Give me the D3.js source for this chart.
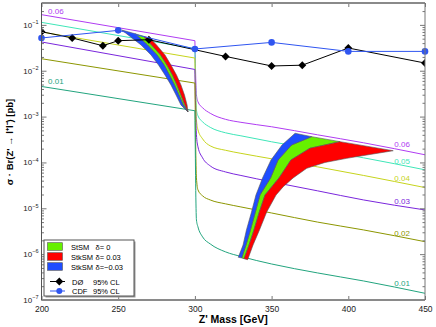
<!DOCTYPE html>
<html>
<head>
<meta charset="utf-8">
<script src="https://cdn.jsdelivr.net/npm/d3@7"></script>
<style>
body { margin: 0; background: #fff; }
text { font-family: "Liberation Sans", Arial, sans-serif; }
</style>
</head>
<body>
<script>
// ---- data ----
const massTicks = [200, 250, 300, 350, 400, 450];
const deltaLabels = ['0.06', '0.05', '0.04', '0.03', '0.02', '0.01'];
const deltaColors = ['#b03cf2', '#3fe6b8', '#c6d41c', '#7a26dc', '#8c9600', '#22a47e'];

// below threshold: values at 200 and 300 GeV
const leftMass = [200, 300];
const leftValues = [
  [0.167, 0.0452],
  [0.1135, 0.0302],
  [0.070, 0.0189],
  [0.0424, 0.01067],
  [0.01828, 0.00538],
  [0.00454, 0.00134]
];

// above threshold
const rightMass = [301, 302, 305, 310, 320, 330, 350, 380, 410, 450];
const rightValues = [
  [2.99e-3, 2.10e-3, 1.56e-3, 1.18e-3, 8.7e-4, 7.5e-4, 6.0e-4, 4.0e-4, 2.68e-4, 1.47e-4],
  [1.41e-3, 1.04e-3, 7.7e-4, 5.83e-4, 4.43e-4, 3.81e-4, 2.82e-4, 1.88e-4, 1.26e-4, 6.9e-5],
  [8.5e-4, 5.15e-4, 3.27e-4, 2.30e-4, 1.84e-4, 1.58e-4, 1.20e-4, 8.0e-5, 5.2e-5, 2.83e-5],
  [4.01e-4, 2.19e-4, 1.26e-4, 8.4e-5, 6.2e-5, 5.2e-5, 3.77e-5, 2.40e-5, 1.52e-5, 9.2e-6],
  [4.61e-5, 2.52e-5, 1.87e-5, 1.52e-5, 1.25e-5, 1.07e-5, 7.9e-6, 5.0e-6, 3.37e-6, 1.87e-6],
  [5.58e-6, 3.93e-6, 2.38e-6, 1.67e-6, 1.12e-6, 8.9e-7, 6.1e-7, 3.89e-7, 2.60e-7, 1.40e-7]
];

// curve labels (mass, value) at the right and two on the left
const rightLabelMass = 430;
const rightLabelValues = [2.17e-4, 9.24e-5, 3.94e-5, 1.24e-5, 2.49e-6, 2.02e-7];
const leftLabelMass = 204.3;
const leftLabelValues = [0.173, null, null, null, null, 5.14e-3];

// D0 and CDF 95% CL limits
const d0Mass = [200, 220, 240, 250, 270, 320, 350, 370, 400, 450];
const d0Limit = [0.0711, 0.0518, 0.0351, 0.0452, 0.0475, 0.0205, 0.0127, 0.0132, 0.0313, 0.0147];
const cdfMass = [200, 250, 300, 350, 400, 450];
const cdfLimit = [0.0518, 0.0759, 0.0298, 0.0415, 0.0264, 0.0264];

// bands below threshold: edges from top to tip, [mass, value]
const lowEdge0 = [[252.3, 0.0774], [264.9, 0.0365], [271.4, 0.0221], [276.3, 0.0133], [280.5, 0.00807], [284.4, 0.00489], [287.7, 0.00296], [290.9, 0.00179], [295.5, 0.00126]];
const lowEdge1 = [[261.0, 0.0640], [269.1, 0.0365], [275.3, 0.0221], [279.9, 0.0133], [283.4, 0.00807], [286.7, 0.00489], [289.6, 0.00296], [292.4, 0.00179], [295.5, 0.00126]];
const lowEdge2 = [[266.4, 0.0566], [271.7, 0.0365], [277.6, 0.0221], [281.8, 0.0133], [285.4, 0.00807], [288.3, 0.00489], [290.9, 0.00296], [293.5, 0.00179], [295.5, 0.00126]];
const lowEdge3 = [[270.7, 0.0510], [275.0, 0.0365], [280.5, 0.0221], [284.4, 0.0133], [288.0, 0.00807], [290.9, 0.00489], [293.2, 0.00296], [294.9, 0.00179], [295.5, 0.00126]];

// bands above threshold: edges from bottom to top
const highEdge0 = [[328.3, 8.53e-7], [331.4, 1.585e-6], [333.6, 3.37e-6], [336.9, 8.30e-6], [339.8, 1.95e-5], [344.1, 4.58e-5], [349.6, 1.13e-4], [356.8, 2.40e-4], [365.3, 4.33e-4]];
const highEdge1 = [[330.5, 8.24e-7], [333.3, 1.585e-6], [336.2, 3.37e-6], [339.4, 8.30e-6], [342.4, 1.95e-5], [349.3, 4.58e-5], [354.2, 1.13e-4], [363.0, 2.40e-4], [376.1, 3.65e-4]];
const highEdge2 = [[332.0, 7.96e-7], [335.3, 1.585e-6], [338.5, 3.37e-6], [342.0, 8.30e-6], [345.7, 1.95e-5], [354.8, 4.58e-5], [362.6, 1.13e-4], [375.0, 2.04e-4], [394.6, 2.84e-4]];
const highEdge3 = [[334.4, 7.57e-7], [337.9, 1.585e-6], [342.1, 3.37e-6], [346.8, 8.30e-6], [352.9, 1.95e-5], [357.6, 2.96e-5], [364.0, 4.58e-5], [372.9, 7.45e-5], [384.8, 9.98e-5], [399.0, 1.23e-4], [414.1, 1.49e-4], [429.3, 1.80e-4]];

const bandNames = ['StSM', 'StkSM', 'StkSM'];
const bandDeltas = ['δ= 0', 'δ= 0.03', 'δ=−0.03'];
const bandColors = ['#66f000', '#ff0000', '#1f4dff'];

// ---- layout ----
const W = 436, H = 327;
const margin = {top: 3, right: 11, bottom: 27, left: 41.5};

const svg = d3.select('body').append('svg')
              .attr('width', W)
              .attr('height', H);

const x = d3.scaleLinear().domain([200, 450]).range([margin.left, W - margin.right]);
const y = d3.scaleLog().domain([1e-7, 0.3]).range([H - margin.bottom, margin.top]);

svg.append('defs').append('clipPath').attr('id', 'plot')
   .append('rect')
   .attr('x', x(200)).attr('y', y(0.3))
   .attr('width', x(450) - x(200)).attr('height', y(1e-7) - y(0.3));

const plot = svg.append('g').attr('clip-path', 'url(#plot)');

// delta curves
const straight = d3.line().x(d => x(d[0])).y(d => y(d[1]));
const smooth = d3.line().x(d => x(d[0])).y(d => y(d[1])).curve(d3.curveMonotoneX);

deltaLabels.forEach((lab, i) => {
  const left = leftMass.map((m, j) => [m, leftValues[i][j]]);
  const right = [[300, leftValues[i][1]]].concat(rightMass.map((m, j) => [m, rightValues[i][j]]));
  plot.append('path').attr('d', straight(left))
      .attr('fill', 'none').attr('stroke', deltaColors[i]).attr('stroke-width', 1);
  plot.append('path').attr('d', smooth(right))
      .attr('fill', 'none').attr('stroke', deltaColors[i]).attr('stroke-width', 1);
});

// bands
function band(a, b) {
  return straight(a.concat(b.slice().reverse())) + 'Z';
}
const lowBands = [[lowEdge1, lowEdge2], [lowEdge2, lowEdge3], [lowEdge0, lowEdge1]];
const highBands = [[highEdge1, highEdge2], [highEdge2, highEdge3], [highEdge0, highEdge1]];
[lowBands, highBands].forEach(group => {
  group.forEach((pair, i) => {
    plot.append('path').attr('d', band(pair[0], pair[1]))
        .attr('fill', bandColors[i])
        .attr('stroke', '#555').attr('stroke-width', 0.6);
  });
});

// D0 limit
const d0 = d0Mass.map((m, i) => [m, d0Limit[i]]);
plot.append('path').attr('d', straight(d0))
    .attr('fill', 'none').attr('stroke', '#000').attr('stroke-width', 1);
const diamond = d3.symbol().type(d3.symbolDiamond2).size(40);
plot.selectAll('.d0').data(d0).enter().append('path')
    .attr('class', 'd0')
    .attr('d', diamond)
    .attr('transform', d => 'translate(' + x(d[0]) + ',' + y(d[1]) + ')')
    .attr('fill', '#000');

// CDF limit
const cdf = cdfMass.map((m, i) => [m, cdfLimit[i]]);
plot.append('path').attr('d', straight(cdf))
    .attr('fill', 'none').attr('stroke', '#2f55f0').attr('stroke-width', 1);
svg.selectAll('.cdf').data(cdf).enter().append('circle')
   .attr('class', 'cdf')
   .attr('cx', d => x(d[0])).attr('cy', d => y(d[1]))
   .attr('r', 3.3)
   .attr('fill', '#2f55f0');

// curve labels
deltaLabels.forEach((lab, i) => {
  svg.append('text').attr('x', x(rightLabelMass)).attr('y', y(rightLabelValues[i]))
     .attr('font-size', 8).attr('fill', deltaColors[i]).text(lab);
  if (leftLabelValues[i] !== null) {
    svg.append('text').attr('x', x(leftLabelMass)).attr('y', y(leftLabelValues[i]))
       .attr('font-size', 8).attr('fill', deltaColors[i]).text(lab);
  }
});

// ---- axes ----
const majors = d3.range(-7, 0).map(k => Math.pow(10, k));
const minors = [];
for (let k = -7; k < 0; k++) {
  for (let m = 2; m <= 9; m++) {
    const v = m * Math.pow(10, k);
    if (v <= 0.3) minors.push(v);
  }
}

function styleAxis(g) {
  g.select('.domain').remove();
  g.selectAll('line').attr('stroke', '#777');
}

svg.append('g').attr('transform', 'translate(' + x(200) + ',0)')
   .call(d3.axisLeft(y).tickValues(majors).tickSize(-5).tickFormat(''))
   .call(styleAxis);
svg.append('g').attr('transform', 'translate(' + x(200) + ',0)')
   .call(d3.axisLeft(y).tickValues(minors).tickSize(-2.5).tickFormat(''))
   .call(styleAxis);
svg.append('g').attr('transform', 'translate(' + x(450) + ',0)')
   .call(d3.axisRight(y).tickValues(majors).tickSize(-5).tickFormat(''))
   .call(styleAxis);
svg.append('g').attr('transform', 'translate(' + x(450) + ',0)')
   .call(d3.axisRight(y).tickValues(minors).tickSize(-2.5).tickFormat(''))
   .call(styleAxis);

const xAxis = svg.append('g').attr('transform', 'translate(0,' + y(1e-7) + ')')
   .call(d3.axisBottom(x).tickValues(massTicks).tickSize(-4).tickPadding(6))
   .call(styleAxis);
xAxis.selectAll('text').attr('font-size', 8.5).attr('fill', '#222')
     .attr('font-family', '"Liberation Sans", Arial, sans-serif');
svg.append('g').attr('transform', 'translate(0,' + y(0.3) + ')')
   .call(d3.axisTop(x).tickValues(massTicks).tickSize(-4).tickFormat(''))
   .call(styleAxis);

// y tick labels 10^k
majors.forEach(v => {
  const t = svg.append('text').attr('x', x(200) - 3).attr('y', y(v) + 2.8)
               .attr('text-anchor', 'end').attr('font-size', 8).attr('fill', '#222');
  t.append('tspan').text('10');
  t.append('tspan').attr('font-size', 5.5).attr('dy', -3.5)
   .text('−' + Math.round(-Math.log10(v)));
});

// frame
svg.append('line').attr('x1', x(200)).attr('x2', x(450)).attr('y1', y(0.3)).attr('y2', y(0.3))
   .attr('stroke', '#8a8a8a').attr('stroke-width', 2);
svg.append('line').attr('x1', x(200)).attr('x2', x(450)).attr('y1', y(1e-7)).attr('y2', y(1e-7))
   .attr('stroke', '#8a8a8a').attr('stroke-width', 2);
svg.append('line').attr('x1', x(200)).attr('x2', x(200)).attr('y1', y(0.3)).attr('y2', y(1e-7))
   .attr('stroke', '#555').attr('stroke-width', 1);
svg.append('line').attr('x1', x(450)).attr('x2', x(450)).attr('y1', y(0.3)).attr('y2', y(1e-7))
   .attr('stroke', '#777').attr('stroke-width', 1);

// axis titles
svg.append('text').attr('x', (x(200) + x(450)) / 2).attr('y', 323)
   .attr('text-anchor', 'middle').attr('font-size', 10.5).attr('font-weight', 'bold')
   .text("Z' Mass [GeV]");
svg.append('text').attr('transform', 'translate(13,142) rotate(-90)')
   .attr('text-anchor', 'middle').attr('font-size', 9.5).attr('font-weight', 'bold')
   .text('σ · Br(Z\' → l⁺l⁻) [pb]');

// ---- legend ----
const legend = svg.append('g').attr('transform', 'translate(44,240)');
legend.append('rect').attr('x', 1.5).attr('y', 1.5).attr('width', 90).attr('height', 56)
      .attr('fill', '#999');
legend.append('rect').attr('x', 0).attr('y', 0).attr('width', 90).attr('height', 56)
      .attr('fill', '#fff').attr('stroke', '#555').attr('stroke-width', 1);

const rowY = [6.5, 16.5, 26.5, 41.5, 51];
bandNames.forEach((name, i) => {
  legend.append('rect').attr('x', 3.5).attr('y', rowY[i] - 3.8).attr('width', 15).attr('height', 7.6)
        .attr('fill', bandColors[i]).attr('stroke', '#555').attr('stroke-width', 0.6);
  legend.append('text').attr('x', 27).attr('y', rowY[i] + 3).attr('font-size', 7.5).text(name);
  legend.append('text').attr('x', 51.5).attr('y', rowY[i] + 3).attr('font-size', 7.5).text(bandDeltas[i]);
});
legend.append('line').attr('x1', 6).attr('x2', 21).attr('y1', rowY[3]).attr('y2', rowY[3])
      .attr('stroke', '#000').attr('stroke-width', 1);
legend.append('path').attr('d', diamond)
      .attr('transform', 'translate(15.3,' + rowY[3] + ')').attr('fill', '#000');
legend.append('text').attr('x', 28).attr('y', rowY[3] + 3).attr('font-size', 7.5).text('DØ');
legend.append('text').attr('x', 49).attr('y', rowY[3] + 3).attr('font-size', 7.5).text('95% CL');
legend.append('line').attr('x1', 6).attr('x2', 21).attr('y1', rowY[4]).attr('y2', rowY[4])
      .attr('stroke', '#2f55f0').attr('stroke-width', 1);
legend.append('circle').attr('cx', 15.3).attr('cy', rowY[4]).attr('r', 3)
      .attr('fill', '#2f55f0');
legend.append('text').attr('x', 28).attr('y', rowY[4] + 3).attr('font-size', 7.5).text('CDF');
legend.append('text').attr('x', 49).attr('y', rowY[4] + 3).attr('font-size', 7.5).text('95% CL');
</script>
</body>
</html>
